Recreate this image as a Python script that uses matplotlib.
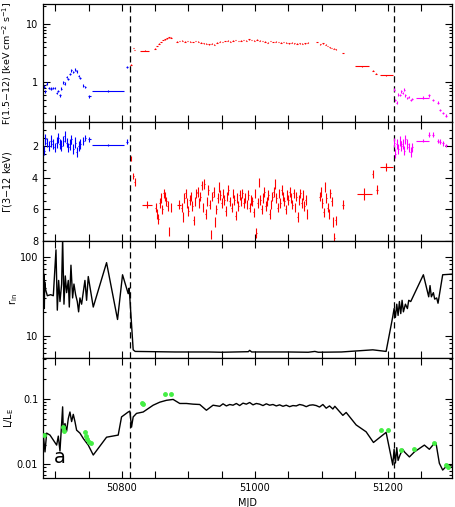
import matplotlib
matplotlib.use("Agg")
import matplotlib.pyplot as plt
import numpy as np
from matplotlib.ticker import FixedLocator, FuncFormatter, MultipleLocator

# ---------------- data ----------------
dash_mjd = [50812, 51209]

blue_mjd = [50683, 50685, 50687, 50690, 50693, 50696, 50699, 50702, 50704, 50707, 50709, 50712,
            50714, 50717, 50719, 50722, 50724, 50727, 50730, 50732, 50735, 50737, 50742, 50745,
            50751, 50778.5, 50807]
blue_xerr = [1, 1, 1, 1.5, 1.5, 1, 1, 1, 1, 1, 1, 1, 1, 1, 1, 1, 1, 1, 1, 1, 1, 1, 1, 1, 2, 24, 1.5]
blue_F = [0.85, 0.7, 0.95, 0.8, 0.78, 0.8, 0.8, 0.66, 0.72, 0.6, 0.78, 1.0, 0.95, 1.25, 1.15,
          1.4, 1.6, 1.5, 1.65, 1.55, 1.3, 1.2, 0.88, 0.84, 0.575, 0.72, 1.84]
blue_G = [2.3, 1.6, 1.8, 2.0, 1.7, 1.9, 2.1, 1.8, 1.5, 1.9, 2.0, 1.7, 1.4, 1.8, 2.1, 1.9, 1.6,
          2.2, 1.8, 2.4, 2.0, 1.9, 1.7, 1.5, 1.6, 1.95, 1.75]
blue_Gerr = [0.3, 0.35, 0.3, 0.3, 0.35, 0.3, 0.3, 0.35, 0.3, 0.3, 0.35, 0.3, 0.35, 0.3, 0.3, 0.35,
             0.3, 0.3, 0.35, 0.3, 0.3, 0.3, 0.25, 0.2, 0.15, 0.05, 0.15]

redF_mjd = [50813.5, 50817, 50819, 50834, 50850, 50853, 50856, 50859, 50862, 50865, 50868, 50871,
            50874, 50883, 50887, 50891, 50895, 50899, 50903, 50907, 50911, 50915, 50919, 50923,
            50927, 50931, 50935, 50939, 50943, 50947, 50951, 50955, 50959, 50963, 50967, 50971,
            50975, 50979, 50983, 50987, 50991, 50995, 50999, 51003, 51007, 51011, 51015, 51019,
            51023, 51027, 51031, 51035, 51039, 51043, 51047, 51051, 51055, 51059, 51063, 51067,
            51071, 51075, 51079, 51093, 51098, 51102, 51106, 51109, 51112, 51115, 51118, 51121,
            51132, 51160.7, 51177, 51182, 51197.5]
redF_xerr = [1] * 3 + [7] + [1] * 69 + [11, 1.5, 1.5, 10]
redF = [2.0, 3.9, 3.6, 3.5, 3.8, 4.2, 4.6, 4.9, 5.3, 5.5, 5.7, 5.9, 5.8, 5.0, 5.1, 5.2, 5.0, 5.1,
        5.0, 4.9, 5.1, 5.0, 4.8, 4.7, 4.6, 4.5, 4.6, 4.4, 4.8, 5.0, 4.9, 5.1, 5.2, 5.0, 5.2, 5.3,
        5.1, 5.2, 5.3, 5.2, 5.5, 5.3, 5.2, 5.4, 5.2, 5.1, 5.0, 4.8, 5.1, 4.9, 5.0, 4.9, 4.8, 4.9,
        4.8, 4.7, 4.8, 4.7, 4.6, 4.7, 4.6, 4.7, 4.8, 4.9, 4.5, 4.7, 4.4, 4.2, 4.0, 3.9, 3.8, 3.7,
        3.2, 1.88, 1.59, 1.41, 1.32]

redG_mjd = [50813.5, 50817, 50819, 50837.5, 50851, 50853, 50855, 50857, 50859, 50861, 50863, 50865,
            50867, 50869, 50871, 50874, 50886, 50890, 50892, 50894, 50896, 50898, 50900, 50902,
            50904, 50906, 50908, 50910, 50912, 50914, 50916, 50918, 50920, 50922, 50924, 50926,
            50928, 50930, 50932, 50934, 50936, 50938, 50940, 50942, 50944, 50946, 50948, 50950,
            50952, 50954, 50956, 50958, 50960, 50962, 50965, 50967, 50969, 50971, 50973, 50975,
            50977, 50979, 50981, 50983, 50985, 50988, 50990, 50992, 50994, 50996, 50998, 51000,
            51002, 51004, 51006, 51008, 51010, 51012, 51014, 51016, 51018, 51020, 51022, 51024,
            51026, 51028, 51030, 51032, 51034, 51036, 51038, 51040, 51042, 51044, 51046, 51048,
            51050, 51052, 51054, 51056, 51058, 51060, 51062, 51064, 51066, 51068, 51070, 51072,
            51074, 51076, 51078, 51097, 51099, 51101, 51103, 51105, 51107, 51109, 51111, 51113,
            51115, 51117, 51119, 51121, 51132, 51164.5, 51177, 51183.5, 51197.5]
redG = [2.8, 3.9, 4.3, 5.7, 5.9, 6.3, 6.6, 5.6, 5.3, 6.0, 5.0, 5.2, 5.5, 5.8, 7.4, 5.9, 5.7, 5.9,
        6.5, 5.3, 5.0, 5.6, 6.1, 5.4, 5.2, 5.8, 6.7, 5.5, 5.0, 4.9, 5.6, 5.2, 4.5, 5.9, 4.4, 6.3,
        5.5, 4.8, 5.7, 7.6, 5.2, 4.9, 6.8, 6.0, 5.3, 4.6, 5.1, 5.6, 5.0, 5.4, 6.1, 5.2, 4.8, 5.5,
        5.9, 5.0, 5.4, 6.4, 5.3, 5.8, 5.1, 5.5, 5.0, 5.6, 5.3, 5.7, 5.1, 5.9, 5.4, 5.5, 6.2, 5.0,
        7.5, 5.6, 4.3, 5.4, 6.0, 5.3, 4.9, 5.8, 5.5, 5.1, 6.3, 5.7, 5.2, 4.9, 4.4, 5.3, 5.9, 5.0,
        5.6, 4.8, 5.2, 5.5, 6.0, 5.1, 5.4, 4.9, 5.3, 5.7, 5.0, 5.9, 5.2, 6.5, 5.4, 5.0, 5.6, 5.1,
        5.8, 5.4, 6.3, 5.2, 4.9, 5.6, 6.2, 4.6, 5.3, 5.9, 6.3, 5.0, 5.5, 6.8, 7.8, 6.7, 5.7, 5.03,
        3.8, 4.76, 3.36]
redG_xerr = [0.5] * 3 + [8] + [0.5] * 12 + [3] + [0.5] * 107 + [1.5, 11, 1, 1, 10]
redG_err = [0.15, 0.2, 0.25, 0.25] + [0.3] * 120 + [0.3, 0.4, 0.25, 0.3, 0.25]

mag_mjd = [51209.5, 51211, 51213, 51215, 51218, 51220, 51222, 51224, 51226, 51229, 51231, 51234,
           51236, 51252, 51262, 51267, 51274.5, 51278.5, 51282, 51287]
mag_xerr = [0.7] * 13 + [10, 1.5, 1.5, 1.5, 1.5, 1.5, 1.5]
mag_F = [0.75, 0.5, 0.45, 0.62, 0.61, 0.7, 0.66, 0.75, 0.6, 0.54, 0.56, 0.5, 0.52, 0.55, 0.6,
         0.5, 0.45, 0.34, 0.30, 0.27]
mag_G = [1.8, 2.5, 1.9, 2.2, 1.7, 2.0, 1.9, 2.3, 1.6, 1.9, 2.1, 2.4, 2.1, 1.67, 1.31, 1.31, 1.69,
         1.73, 1.85, 1.98]
mag_Gerr = [0.3] * 13 + [0.1, 0.15, 0.15, 0.15, 0.15, 0.15, 0.12]

rin_mjd = [50681.5, 50682, 50682.5, 50683, 50683.5, 50684, 50685.5, 50688, 50693, 50697, 50701,
           50703, 50705, 50707, 50709.5, 50711, 50713, 50715, 50717, 50719.5, 50721, 50723.5,
           50726, 50728, 50730.5, 50733, 50735, 50737, 50739.5, 50744.5, 50747, 50749.5, 50757,
           50777, 50793.5, 50801, 50809.5, 50811, 50817, 50820, 50850, 50880, 50900, 50930,
           50950, 50970, 50990, 50992, 50995, 51020, 51050, 51080, 51090, 51095, 51130, 51177,
           51197, 51207, 51209, 51211, 51213, 51215, 51217, 51219, 51221, 51223, 51226, 51229,
           51231, 51234, 51253, 51261, 51263, 51265, 51268, 51270, 51273, 51275, 51282, 51295]
rin = [20, 90, 25, 60, 22, 48, 38, 32, 33, 32, 122, 21, 50, 27, 45, 170, 25, 57, 35, 50, 23, 78,
       30, 45, 33, 27, 20, 30, 25, 50, 28, 56, 23, 84, 16, 59, 34, 40, 6.6, 6.3, 6.25, 6.2, 6.2,
       6.2, 6.15, 6.2, 6.25, 6.5, 6.2, 6.2, 6.2, 6.15, 6.3, 6.15, 6.2, 6.6, 6.3, 17.4, 22, 17, 25,
       18, 27, 19, 28, 20, 25, 22, 28, 27, 59, 31, 43, 31, 35, 29, 30, 25.7, 59, 60]

L_mjd = [50682, 50684.5, 50687, 50692, 50697, 50702, 50704.5, 50707, 50711, 50712, 50714.5,
         50717, 50719.5, 50722, 50724.5, 50727, 50729.5, 50732, 50737, 50742, 50749.5, 50757,
         50777, 50794.5, 50799.5, 50809.5, 50812, 50814.5, 50817, 50822, 50832, 50847, 50857,
         50867, 50877, 50887, 50897, 50907, 50917, 50927, 50937, 50947, 50952, 50957, 50962,
         50967, 50972, 50977, 50982, 50987, 50992, 50997, 51002, 51007, 51012, 51017, 51022,
         51027, 51032, 51037, 51042, 51047, 51052, 51057, 51062, 51067, 51072, 51077, 51082,
         51087, 51092, 51097, 51102, 51107, 51112, 51117, 51120, 51132, 51137, 51152, 51167,
         51178, 51197, 51207, 51209, 51211, 51213, 51215, 51218, 51222, 51224.5, 51232, 51239.5,
         51254.5, 51262, 51269.5, 51272, 51277, 51282, 51289.5, 51295]
L = [0.028, 0.0155, 0.03, 0.028, 0.0235, 0.0197, 0.027, 0.016, 0.0755, 0.032, 0.042, 0.032,
     0.050, 0.063, 0.045, 0.058, 0.045, 0.0333, 0.030, 0.0249, 0.0197, 0.0139, 0.026, 0.028,
     0.053, 0.063, 0.065, 0.037, 0.053, 0.060, 0.063, 0.080, 0.089, 0.095, 0.098, 0.085, 0.085,
     0.083, 0.082, 0.067, 0.080, 0.077, 0.084, 0.078, 0.082, 0.080, 0.085, 0.079, 0.086, 0.083,
     0.088, 0.081, 0.085, 0.083, 0.079, 0.084, 0.080, 0.082, 0.078, 0.081, 0.077, 0.080, 0.076,
     0.079, 0.078, 0.082, 0.080, 0.076, 0.080, 0.081, 0.079, 0.075, 0.082, 0.072, 0.078, 0.070,
     0.077, 0.056, 0.062, 0.040, 0.0314, 0.0216, 0.0308, 0.0098, 0.017, 0.0105, 0.018, 0.0115,
     0.014, 0.017, 0.0155, 0.013, 0.0155, 0.0197, 0.017, 0.021, 0.021, 0.0104, 0.0082, 0.0098,
     0.0095]

green_mjd = [50683, 50712, 50712.5, 50744.5, 50746.5, 50748, 50750, 50753, 50829.5, 50831,
             50865.5, 50874, 51189.5, 51199.5, 51219.5, 51238.5, 51268.5, 51287, 51290]
green_L = [0.028, 0.037, 0.032, 0.031, 0.027, 0.024, 0.022, 0.021, 0.085, 0.084, 0.118, 0.118,
           0.0333, 0.0333, 0.0165, 0.017, 0.021, 0.0098, 0.009]

xlim = (50681.5, 51296)
major_x = list(range(50700, 51300, 50))
label_x = [50800, 51000, 51200]

# ---------------- figure ----------------
plt.rcParams['font.family'] = ['DejaVu Sans']
plt.rcParams['font.size'] = 7
W, H = 455, 507
fig = plt.figure(figsize=(W / 100, H / 100), dpi=100)

def ax_rect(top, bot):
    return [43 / W, 1 - bot / H, 409 / W, (bot - top) / H]

ax1 = fig.add_axes(ax_rect(4, 122))
ax2 = fig.add_axes(ax_rect(122, 241))
ax3 = fig.add_axes(ax_rect(241, 358))
ax4 = fig.add_axes(ax_rect(358, 478))
axes = [ax1, ax2, ax3, ax4]

for ax in axes:
    ax.set_xlim(*xlim)
    ax.xaxis.set_major_locator(FixedLocator(major_x))
    ax.xaxis.set_major_formatter(FuncFormatter(lambda v, p: f"{int(v)}" if int(round(v)) in label_x else ""))
    ax.tick_params(which='both', direction='in', top=True, right=True, width=0.8)
    ax.tick_params(which='major', length=5, labelsize=7)
    ax.tick_params(which='minor', length=2.5)
    for s in ax.spines.values():
        s.set_linewidth(0.9)
    for d in dash_mjd:
        ax.axvline(d, color='black', lw=0.9, ls=(0, (5, 3)), zorder=1)
    if ax is not ax4:
        ax.tick_params(labelbottom=False)

eb = dict(fmt='none', capsize=0, elinewidth=0.8)

# Panel 1: flux
ax1.set_yscale('log')
ax1.set_ylim(0.21, 22)
ax1.errorbar(blue_mjd, blue_F, xerr=blue_xerr, yerr=np.array(blue_F) * 0.05, ecolor='#0000ff', **eb)
ax1.errorbar(redF_mjd, redF, xerr=redF_xerr, yerr=np.array(redF) * 0.015, ecolor='#ff0000', **eb)
ax1.errorbar(mag_mjd, mag_F, xerr=mag_xerr, yerr=np.array(mag_F) * 0.05, ecolor='#ff00ff', **eb)
ax1.yaxis.set_major_formatter(FuncFormatter(lambda v, p: f"{v:g}"))
ax1.set_ylabel(r'F(1.5$-$12) [keV cm$^{-2}$ s$^{-1}$]', fontsize=6.8)
ax1.yaxis.set_label_coords(-0.072, 0.5)

# Panel 2: photon index
ax2.set_ylim(8, 0.5)
ax2.yaxis.set_major_locator(FixedLocator([2, 4, 6, 8]))
ax2.yaxis.set_minor_locator(MultipleLocator(0.5))
ax2.errorbar(blue_mjd, blue_G, xerr=blue_xerr, yerr=blue_Gerr, ecolor='#0000ff', **eb)
ax2.errorbar(redG_mjd, redG, xerr=redG_xerr, yerr=redG_err, ecolor='#ff0000', **eb)
ax2.errorbar(mag_mjd, mag_G, xerr=mag_xerr, yerr=mag_Gerr, ecolor='#ff00ff', **eb)
ax2.set_ylabel(r'$\Gamma$(3$-$12 keV)', fontsize=7)
ax2.yaxis.set_label_coords(-0.072, 0.5)

# Panel 3: inner radius
ax3.set_yscale('log')
ax3.set_ylim(5.2, 158)
ax3.plot(rin_mjd, rin, color='black', lw=1.0)
ax3.yaxis.set_major_formatter(FuncFormatter(lambda v, p: f"{v:g}"))
ax3.set_ylabel(r'r$_{\rm in}$', fontsize=7)
ax3.yaxis.set_label_coords(-0.056, 0.5)

# Panel 4: luminosity
ax4.set_yscale('log')
ax4.set_ylim(0.0062, 0.42)
ax4.plot(L_mjd, L, color='black', lw=1.0)
ax4.plot(green_mjd, green_L, 'o', color='#44ee44', ms=2.5, mec='#44ee44', zorder=3)
ax4.yaxis.set_major_formatter(FuncFormatter(lambda v, p: f"{v:g}"))
ax4.set_ylabel(r'L/L$_{\rm E}$', fontsize=7)
ax4.yaxis.set_label_coords(-0.066, 0.5)
ax4.text(0.042, 0.09, 'a', transform=ax4.transAxes, fontsize=14, ha='center', va='bottom')
ax4.set_xlabel('MJD', fontsize=7)

for ax in [ax1, ax3, ax4]:
    ax.yaxis.set_minor_formatter(FuncFormatter(lambda v, p: ""))

fig.savefig('out.png', dpi=100)
